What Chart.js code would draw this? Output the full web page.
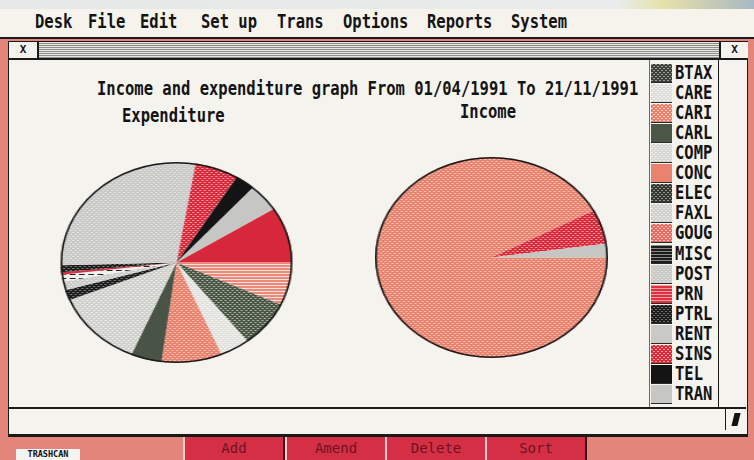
<!DOCTYPE html>
<html><head><meta charset="utf-8">
<script src="https://cdn.jsdelivr.net/npm/chart.js@4.4.0/dist/chart.umd.min.js"></script>
<style>
html,body{margin:0;padding:0;}
body{width:754px;height:460px;position:relative;overflow:hidden;background:#e3857a;font-family:"DejaVu Sans Mono",monospace;font-weight:bold;color:#141414;}
.a{position:absolute;}
.t{position:absolute;font-size:15.5px;line-height:16px;height:16px;white-space:pre;}
.t span{display:inline-block;transform:scaleY(1.28);transform-origin:50% 50%;}
#top{left:0;top:0;width:754px;height:10px;background:linear-gradient(90deg,#e4e9e8 0,#e8ecea 82%,#e6e2a8 88%,#a7b8c4 100%);}
#menubar{left:0;top:9px;width:754px;height:28px;background:#f5f3ec;border-bottom:2px solid #1a1a1a;}
#win{left:8px;top:41px;width:738px;height:392px;background:#f4f3ee;border:1px solid #1a1a1a;border-bottom:3px solid #1a1a1a;}
#titlebar{left:9px;top:42px;width:737px;height:16px;background:repeating-linear-gradient(to bottom,#e6e6e2 0,#e6e6e2 1px,#8e8e8c 1px,#8e8e8c 2px);border-bottom:2px solid #1a1a1a;}
.box{background:#f4f3ee;height:16px;top:42px;border-bottom:2px solid #1a1a1a;font-size:11px;line-height:16px;text-align:center;}
#sep{left:718px;top:60px;width:1px;height:347px;background:#1a1a1a;}
#lsep{left:649px;top:60px;width:1px;height:347px;background:#6a6a6a;}
#hline{left:9px;top:407px;width:737px;height:2px;background:#1a1a1a;}
#sizer{left:725px;top:409px;width:21px;height:21px;border-left:1px solid #1a1a1a;}
#sizer div{position:absolute;left:7px;top:4px;width:6px;height:13px;background:#111;transform:skewX(-14deg);}
.pw{position:absolute;width:201px;height:201px;transform-origin:50% 50%;}
.btn{position:absolute;top:437px;height:23px;background:#d52f45;border-left:2px solid #f3c8c8;border-right:2px solid #3a1016;font-size:14px;line-height:22px;text-align:center;color:#6e1222;font-weight:normal;}
#trash{left:16px;top:449px;width:64px;height:11px;background:#f4f4f0;font-size:8.5px;line-height:11px;text-align:center;color:#111;}
</style></head>
<body>
<div id="top" class="a"></div>
<div id="menubar" class="a"></div>
<div id="win" class="a"></div>
<div id="titlebar" class="a"></div>
<div class="a box" style="left:9px;width:28px;border-right:2px solid #1a1a1a;">X</div>
<div class="a box" style="left:719px;width:27px;border-left:2px solid #1a1a1a;">X</div>
<div id="lsep" class="a"></div>
<div id="sep" class="a"></div>
<div id="hline" class="a"></div>
<div id="sizer" class="a"><div></div></div>
<div id="trash" class="a">TRASHCAN</div>
<div id="pe" class="pw" style="left:75.5px;top:162px;transform:scaleX(1.154);"><canvas id="cExp" width="201" height="201"></canvas></div>
<div id="pi" class="pw" style="left:391px;top:157px;transform:scaleX(1.159);"><canvas id="cInc" width="201" height="201"></canvas></div>
<div id="legend"></div>
<script>
// ---- data ----
const categories = ['BTAX','CARE','CARI','CARL','COMP','CONC','ELEC','FAXL','GOUG','MISC','POST','PRN','PTRL','RENT','SINS','TEL','TRAN'];
const expenditure = [390,0,300,324,180,366,186,540,72,60,48,18,48,1212,264,120,192];
const income      = [0,0,0,0,0,9960,0,0,0,0,0,0,0,0,600,0,240];
const chartTitle = 'Income and expenditure graph From 01/04/1991 To 21/11/1991';
const pieTitles = ['Expenditure','Income'];
const menuItems = ['Desk','File','Edit','Set up','Trans','Options','Reports','System'];
const buttonLabels = ['Add','Amend','Delete','Sort'];

// ---- layout / styles ----
const menuX = [35,88,140,201,277,343,427,511];
const buttonX = [183,285,385,485];
const buttonW = 98;

function tile(spec){
  const [type, base, fg] = spec;
  if(type==='solid') return base;
  const c = document.createElement('canvas');
  const x = c.getContext('2d');
  if(type==='dots'){
    c.width=4;c.height=4;
    x.fillStyle=base;x.fillRect(0,0,4,4);
    x.fillStyle=fg;x.fillRect(0,0,2,1);x.fillRect(2,2,2,1);
  } else if(type==='stripes'){
    c.width=4;c.height=3;
    x.fillStyle=base;x.fillRect(0,0,4,3);
    x.fillStyle=fg;x.fillRect(0,0,4,1);
  } else if(type==='dashes'){
    c.width=8;c.height=4;
    x.fillStyle=base;x.fillRect(0,0,8,4);
    x.fillStyle=fg;x.fillRect(0,0,5,1);
  }
  return x.createPattern(c,'repeat');
}
const legendSpecs = [
  ['dots','#3c3f3a','#9a9c96'], ['dots','#dcdcd8','#f6f6f2'], ['dots','#e8806e','#f8d0c4'],
  ['solid','#4b5646'], ['dots','#d6d6d2','#eeeeea'], ['solid','#e9826f'],
  ['dots','#343a32','#8e948a'], ['dots','#cfcfcb','#ececea'], ['dots','#e46a62','#f6c4bc'],
  ['stripes','#1c1c1c','#8a8a8a'], ['dots','#c8c8c6','#dedede'], ['stripes','#de3040','#f3a0a0'],
  ['dots','#1c1c1c','#707070'], ['solid','#c9c9c7'], ['dots','#dc2a38','#f2a0a4'],
  ['solid','#141414'], ['solid','#c6c6c4']
];
const pieSpecs = [
  ['solid','#d6283a'], ['dots','#dcdcd8','#f6f6f2'], ['stripes','#eb8a7c','#fbe0d8'],
  ['dots','#4a5546','#a8b09e'], ['dots','#e2e2de','#f4f4f0'], ['dots','#e8826f','#f6c0b0'],
  ['solid','#4a5446'], ['dots','#cfcfcb','#eeeeea'], ['dots','#1c1c1c','#777777'],
  ['dots','#cacac8','#e8e8e6'], ['dashes','#f0f0ee','#222222'], ['solid','#d83040'],
  ['dots','#1c1c1c','#777777'], ['dots','#c9c9c7','#e2e2e0'], ['dots','#d8283a','#f09aa0'],
  ['solid','#141414'], ['solid','#c6c6c4']
];
const pieFills = pieSpecs.map(tile);

function txt(s, left, cy, extra){
  const d = document.createElement('div');
  d.className='t'; d.style.left=left+'px'; d.style.top=(cy-8)+'px';
  if(extra) Object.assign(d.style, extra);
  const sp=document.createElement('span'); sp.textContent=s; d.appendChild(sp);
  document.body.appendChild(d); return d;
}
menuItems.forEach((m,i)=>txt(m, menuX[i], 22));
txt(chartTitle, 97, 89);
txt(pieTitles[0], 122, 116);
txt(pieTitles[1], 460, 112);

buttonLabels.forEach((b,i)=>{
  const d=document.createElement('div'); d.className='btn';
  d.style.left=buttonX[i]+'px'; d.style.width=buttonW+'px'; d.textContent=b;
  document.body.appendChild(d);
});

// legend
categories.forEach((c,i)=>{
  const top = 64 + i*20.06;
  const cv=document.createElement('canvas'); cv.width=21; cv.height=19;
  cv.style.cssText='position:absolute;left:651px;top:'+top+'px;';
  const x=cv.getContext('2d'); x.fillStyle=tile(legendSpecs[i]); x.fillRect(0,0,21,18);
  x.fillStyle='#2a2a2a'; x.fillRect(0,18,21,1);
  document.body.appendChild(cv);
  txt(c, 675, top+9);
});

const outline = {id:'outline', afterDatasetsDraw(chart){
  const el = chart.getDatasetMeta(0).data[0];
  const ctx = chart.ctx;
  ctx.save(); ctx.beginPath();
  ctx.arc(el.x, el.y, el.outerRadius-0.8, 0, Math.PI*2);
  ctx.lineWidth=1.6; ctx.strokeStyle='#1a1a1a'; ctx.stroke(); ctx.restore();
}};
function pie(id, values, rotation){
  return new Chart(document.getElementById(id), {
    type:'pie',
    data:{labels:categories, datasets:[{data:values, backgroundColor:pieFills, borderWidth:0, hoverOffset:0}]},
    options:{responsive:false, animation:false, rotation:rotation, layout:{padding:0}, events:[],
      plugins:{legend:{display:false}, tooltip:{enabled:false}}},
    plugins:[outline]
  });
}
pie('cExp', expenditure, 57.5);
pie('cInc', income, 90);
</script>
</body></html>
